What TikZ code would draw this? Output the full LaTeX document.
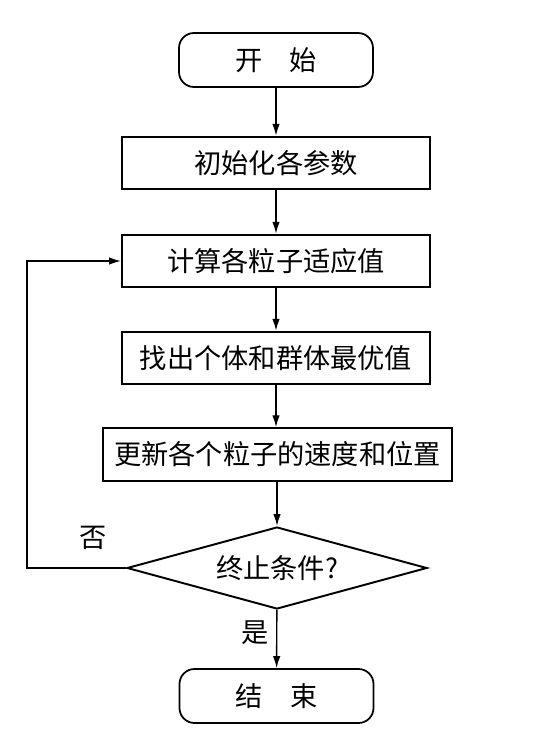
\documentclass[tikz,border=0pt]{standalone}
\usepackage{fontspec}
\newfontfamily\cjk{Noto Sans CJK SC}
\usetikzlibrary{shapes.geometric,arrows.meta}
\begin{document}
\begin{tikzpicture}[
    font=\cjk\fontsize{15.5}{18}\selectfont,
    term/.style={draw,line width=1pt,rounded corners=0.3cm,minimum width=3.88cm,minimum height=1.08cm,anchor=center},
    proc/.style={draw,line width=1.1pt,minimum width=6.16cm,minimum height=1.05cm,anchor=center},
    test/.style={draw,diamond,shape aspect=3.66,line width=1.1pt,inner sep=0pt,minimum width=6cm,minimum height=1.64cm,anchor=center},
    flow/.style={line width=0.8pt,-{Latex[length=2.4mm,width=1.5mm]}}]
        %% page
        \useasboundingbox (0,0) rectangle (10.7,-15.1);
        %% start
        \node[term] (start) at (5.52,-1.2) {开\quad 始};
        %% process boxes
        \node[proc] (init) at (5.52,-3.26) {初始化各参数};
        \node[proc] (fit) at (5.52,-5.22) {计算各粒子适应值};
        \node[proc] (best) at (5.52,-7.16) {找出个体和群体最优值};
        \node[proc,minimum width=6.98cm] (update) at (5.55,-9.09) {更新各个粒子的速度和位置};
        %% decision
        \node[test] (cond) at (5.54,-11.36) {终止条件?};
        %% end
        \node[term] (stop) at (5.53,-13.92) {结\quad 束};
        %% main arrows
        \draw[flow] (start) -- (init);
        \draw[flow] (init) -- (fit);
        \draw[flow] (fit) -- (best);
        \draw[flow] (best) -- (update.north -| best.south);
        \draw[flow] (update.south -| cond.north) -- (cond);
        \draw[flow] (cond) -- (stop);
        %% loop back
        \coordinate (back) at (0.54,-11.36);
        \draw[flow] (cond.west) -- (back) |- (fit.west);
        %% labels
        \node (no) at (1.86,-10.76) {否};
        \node (yes) at (5.1,-12.66) {是};
    \end{tikzpicture}
\end{document}
